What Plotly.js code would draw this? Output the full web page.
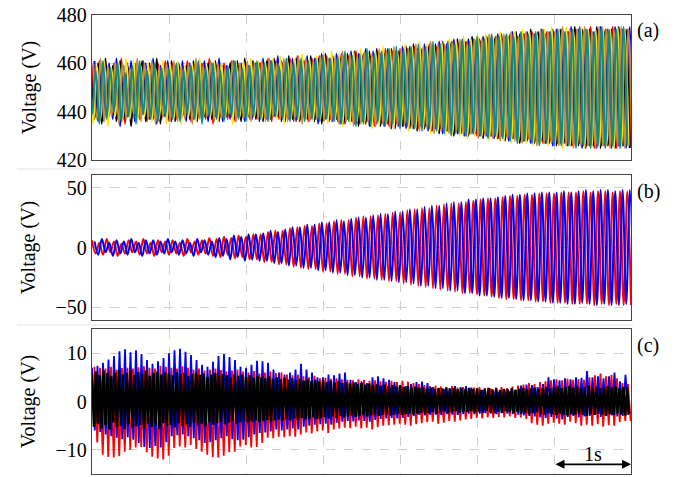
<!DOCTYPE html>
<html>
<head>
<meta charset="utf-8">
<script src="https://cdn.plot.ly/plotly-3.0.1.min.js"></script>
<style>html,body{margin:0;padding:0;background:#fff;}#chart{width:685px;height:477px;}</style>
</head>
<body>
<div id="chart"></div>
<script>
// ---------- DATA ----------
// Panel (a): per-cycle crest / trough values (V), one cycle ≈ 1/10.5 s
const aRedHi = [459,461,457,460,462,458,460,461,459,460,461, 460,458,461,459,460,462,459,460,461,459,460, 461,460,462,461,460,462,463,461,462,463, 463,462,464,463,465,464,463,465,466,465,466, 466,467,466,468,467,468,469,468,469,470, 469,470,471,470,472,471,472,473,472,473,473, 474,473,474,473,475,474,474,475,474,474];
const aRedLo = [438,436,440,437,435,439,437,436,438,437,436, 437,439,436,438,437,435,438,437,436,438,437, 437,438,436,437,438,436,437,436,437,436, 437,436,435,436,435,436,434,435,434,435,434, 434,433,434,432,433,432,431,432,431,430, 431,430,429,430,429,428,429,428,427,428,427, 427,426,427,426,425,426,426,425,426,426];
const aBlueHi = [461,458,460,462,459,461,457,460,462,459,461, 459,461,460,458,461,460,462,459,461,460,459, 460,462,461,463,460,462,461,463,462,464, 462,464,463,465,464,466,465,464,466,465,467, 467,466,468,467,469,468,470,469,470,469, 471,470,472,471,473,472,473,472,474,473,474, 473,475,474,474,473,475,474,475,474,475];
const aBlueLo = [436,439,437,434,438,436,439,437,435,438,436, 438,436,437,439,436,438,436,437,438,436,437, 436,437,438,436,437,436,438,437,435,437, 436,435,437,435,436,434,435,434,433,434,433, 433,434,432,433,431,432,431,430,431,430, 430,429,430,428,429,428,427,428,427,426,427, 426,427,425,426,425,426,425,426,425,426];
const aBlackHi = [458,460,462,459,461,460,458,461,460,462,459, 461,460,459,461,458,460,461,459,460,461,462, 461,460,461,462,461,463,462,461,463,462, 464,463,462,464,465,463,465,466,464,466,465, 467,468,466,467,468,469,468,470,469,471, 470,471,470,472,471,473,472,474,473,472,474, 474,473,475,474,474,475,473,474,475,474];
const aBlackLo = [437,435,438,436,437,434,438,436,437,435,437, 436,438,437,436,438,437,436,438,437,436,438, 437,436,437,438,436,437,436,437,436,435, 436,437,435,436,434,435,436,434,435,433,434, 433,432,433,432,431,432,430,431,430,431, 429,430,429,428,429,427,428,427,428,427,426, 427,426,426,425,426,425,426,425,426,425];
const aYellowHi = [462,459,461,458,460,462,461,459,460,458,461, 460,461,459,460,462,459,461,460,458,460,461, 462,461,460,462,463,461,462,464,462,463, 463,465,464,463,465,466,464,465,467,466,465, 468,467,469,468,467,469,470,469,471,470, 471,472,471,473,472,473,474,473,472,474,475, 474,475,473,475,474,474,475,474,475,474];
const aYellowLo = [435,437,434,438,436,437,435,438,436,437,435, 437,435,438,436,437,438,436,437,435,438,436, 438,437,436,437,435,437,436,437,436,437, 435,436,434,435,436,435,433,434,435,433,434, 432,433,432,431,432,430,431,430,429,430, 430,428,429,428,427,428,427,426,427,426,427, 425,426,426,425,426,425,426,425,425,426];
const aBrownHi = [460,462,459,461,460,458,462,460,461,459,460, 461,459,460,462,459,461,460,458,461,460,461, 460,461,462,460,462,461,463,462,461,463, 462,463,465,464,463,465,464,466,465,467,466, 466,468,467,469,468,467,469,470,468,470, 470,472,471,472,473,471,473,472,474,473,473, 475,474,474,475,473,475,474,474,475,474];
const aBrownLo = [437,436,438,435,437,439,436,437,435,438,436, 436,437,435,437,438,436,437,439,436,437,436, 437,436,438,437,436,437,435,436,437,436, 436,435,436,434,435,436,434,435,433,434,435, 433,432,433,431,432,431,432,430,431,429, 430,429,428,429,428,427,428,426,427,427,426, 426,425,426,426,425,426,425,426,425,425];
const aTealHi = [459,457,461,458,460,456,459,461,457,460,458, 458,460,457,459,461,458,460,457,459,461,458, 459,461,460,461,459,462,460,462,461,462, 463,462,463,465,463,464,466,464,465,466,467, 466,467,468,467,469,468,469,468,470,469, 471,470,472,471,472,471,473,472,473,474,473, 474,473,474,475,474,473,475,474,474,475];
const aTealLo = [439,435,437,440,436,438,435,439,437,436,438, 437,436,439,437,435,438,437,436,438,437,436, 438,437,436,438,437,436,437,436,437,436, 437,436,435,436,434,435,434,436,434,435,433, 434,433,432,433,432,431,430,431,430,431, 430,429,430,429,428,427,428,427,426,427,426, 426,426,425,426,425,426,425,426,425,426];

// Panel (b): per-cycle crest / trough values (V)
const bRedHi = [6,4,7,5,3,6,5,7,4,6,5, 6,4,7,5,6,8,7,9,8,10,9, 11,11,13,14,14,16,17,18,18,20, 20,22,23,23,25,26,26,27,28,29,29, 31,32,33,33,35,36,37,37,38,39, 40,41,41,42,43,43,44,44,45,45,45, 46,46,46,47,46,47,47,46,47,47];
const bRedLo = [-5,-6,-4,-7,-5,-4,-6,-5,-7,-4,-6, -5,-7,-4,-6,-5,-7,-8,-6,-9,-8,-10, -10,-12,-12,-14,-14,-16,-17,-18,-18,-20, -20,-22,-22,-24,-24,-26,-26,-27,-28,-28,-30, -31,-32,-33,-34,-35,-36,-37,-38,-38,-39, -40,-41,-42,-43,-43,-44,-44,-45,-45,-46,-46, -46,-47,-47,-47,-48,-47,-48,-47,-48,-48];
const bBlueHi = [5,7,4,6,5,7,4,6,6,5,7, 5,6,4,7,6,5,8,7,10,9,11, 11,12,14,13,15,17,17,19,19,21, 21,23,22,24,25,25,27,28,28,30,30, 32,32,34,35,35,37,38,38,40,40, 41,41,42,43,44,44,45,45,46,46,46, 47,46,47,48,47,48,48,47,48,48];
const bBlueLo = [-6,-4,-7,-5,-6,-4,-7,-5,-6,-5,-4, -6,-5,-7,-4,-6,-8,-7,-10,-8,-11,-10, -11,-11,-13,-13,-15,-15,-17,-17,-19,-19, -21,-21,-23,-23,-25,-25,-27,-27,-28,-29,-29, -30,-32,-32,-34,-34,-36,-36,-38,-38,-40, -40,-41,-42,-42,-43,-44,-44,-45,-45,-46,-46, -47,-47,-46,-47,-48,-47,-48,-48,-47,-48];

// Panel (c): per-spike values (V), one spike ≈ 1/14 s
const cBlueHi = [7.0,7.4,8.0,8.7,9.4,10.4,10.8,10.2,10.6,9.8,8.6,7.8,8.3,9.0, 10.0,10.6,10.9,10.3,9.6,8.6,7.6,7.2,8.2,9.4,9.8,9.2,8.6,7.2, 7.0,7.6,8.4,8.3,8.0,6.6,6.0,5.6,6.0,6.6,7.8,6.6,6.0,5.0, 5.0,5.6,5.4,5.8,6.0,4.5,4.0,4.2,3.8,5.0,5.2,4.8,4.5,4.0, 3.4,3.2,3.6,4.0,4.1,3.8,3.0,2.6,2.5,2.8,3.2,3.0,3.2,2.9, 2.6,2.4,2.2,2.1,2.0,2.3,2.1,2.4,3.3,3.5,3.4,3.0,3.6,5.0, 4.6,4.4,4.8,4.6,5.0,4.9,6.3,5.0,5.2,4.8,5.2,6.0,4.2,5.5];
const cBlueLo = [-6.0,-6.3,-6.8,-7.2,-7.5,-7.8,-7.4,-7.9,-8.6,-9.4,-9.6,-9.2,-9.5,-8.4, -7.2,-7.0,-6.8,-7.2,-7.6,-8.0,-8.6,-8.4,-8.0,-7.6,-7.2,-7.8,-8.0,-7.9, -7.4,-6.8,-6.5,-6.4,-6.2,-5.8,-6.0,-5.8,-5.6,-5.8,-5.2,-5.0,-4.8,-4.7, -4.6,-4.8,-4.4,-4.2,-4.0,-4.1,-3.9,-4.0,-4.2,-3.8,-3.6,-3.5,-3.4,-3.5, -3.4,-3.2,-3.0,-2.8,-2.9,-2.8,-2.7,-2.8,-2.6,-2.7,-2.8,-2.6,-2.5,-2.6, -2.5,-2.4,-2.5,-2.6,-2.4,-2.5,-2.6,-2.7,-2.9,-3.0,-3.1,-3.3,-3.4,-3.2, -3.5,-3.7,-3.2,-3.0,-3.3,-3.1,-3.0,-2.8,-3.2,-3.0,-2.9,-3.1,-3.0,-2.8];
const cRedHi = [7.2,7.0,6.8,7.2,6.6,6.9,7.0,6.8,7.1,7.3,7.0,6.8,7.4,7.2, 7.0,6.8,7.3,7.0,6.6,6.8,6.4,6.6,6.8,6.5,6.2,6.4,6.6,6.2, 6.0,6.3,5.8,6.0,6.2,5.9,6.0,5.6,5.4,5.6,5.2,5.0,5.3,4.8, 4.9,4.7,4.8,4.6,4.5,4.4,4.6,4.5,4.3,4.4,4.2,4.1,4.3,4.0, 4.3,4.1,3.8,3.6,3.4,3.2,3.3,3.1,3.0,3.2,2.9,3.0,2.8,2.9, 3.0,2.8,2.7,2.9,3.0,2.8,3.1,3.3,3.5,3.8,3.6,4.0,4.2,4.4, 4.6,4.4,4.7,4.5,4.6,4.5,5.0,5.4,5.8,5.2,5.5,4.8,3.8,3.6];
const cRedLo = [-8.5,-11.0,-11.5,-11.6,-11.3,-10.4,-10.0,-9.5,-9.4,-10.5,-11.4,-11.8,-12.0,-11.2, -9.6,-9.3,-9.5,-9.0,-9.8,-10.4,-11.0,-11.5,-11.6,-11.2,-10.5,-10.4,-9.3,-9.0, -9.5,-9.4,-8.6,-7.5,-7.6,-7.3,-7.4,-7.2,-7.3,-6.8,-6.4,-6.6,-6.2,-6.0, -6.5,-5.8,-5.6,-5.4,-5.5,-5.2,-5.6,-5.4,-5.8,-5.3,-5.0,-4.9,-4.8,-4.6, -4.8,-5.0,-4.7,-4.5,-4.3,-4.2,-4.6,-4.4,-4.0,-4.2,-3.9,-3.7,-3.6,-3.4, -3.5,-3.3,-3.4,-3.2,-3.3,-3.1,-3.4,-3.3,-3.6,-4.5,-4.8,-5.0,-4.6,-4.4, -4.6,-4.8,-4.2,-4.5,-5.0,-4.8,-5.0,-4.7,-5.2,-4.9,-5.0,-4.3,-4.0,-4.1];
// black trace: upper / lower swings, 20 per second
const cBlackHi = [5.8,6.2,5.4,6.4,5.9,5.2,6.0,6.5,5.6,5.9,6.3,5.5,6.1,5.7,6.4,5.3,5.9,6.2,5.6,6.0, 5.8,5.4,6.1,5.6,5.9,5.2,5.7,6.0,5.5,5.8,5.1,5.6,5.9,5.3,5.7,5.4,5.0,5.6,5.3,5.5, 5.1,5.4,4.9,5.3,5.0,4.8,5.2,4.7,5.0,4.6,4.9,4.5,4.8,4.4,4.7,4.3,4.6,4.2,4.5,4.1, 4.4,4.0,4.3,3.9,4.2,3.8,4.0,3.7,3.9,3.6,3.8,3.5,3.7,3.4,3.6,3.3,3.5,3.2,3.4,3.1, 3.3,3.0,3.2,2.9,3.1,2.8,3.0,2.7,2.9,2.6,2.8,2.7,2.9,2.6,2.8,2.5,2.7,2.6,2.8,2.5, 2.7,2.4,2.6,2.8,2.5,2.7,2.4,2.6,2.5,2.7,2.4,2.6,2.8,2.5,2.7,2.9,2.6,2.8,3.0,2.7, 2.9,3.1,2.8,3.0,3.2,2.9,3.1,2.8,3.0,3.3,2.9,3.1,2.8,3.0,3.2,2.9,3.1,2.8,3.0,2.9];
const cBlackLo = [-5.2,-4.6,-5.6,-4.9,-5.8,-4.4,-5.3,-5.0,-5.7,-4.7,-5.4,-5.1,-4.8,-5.5,-4.6,-5.2,-4.9,-5.6,-4.5,-5.0, -4.8,-5.3,-4.5,-5.0,-4.7,-5.2,-4.4,-4.9,-4.6,-5.1,-4.3,-4.8,-4.5,-4.2,-4.7,-4.4,-4.1,-4.6,-4.3,-4.0, -4.4,-4.1,-3.9,-4.3,-4.0,-3.8,-4.2,-3.9,-3.7,-4.0,-3.6,-3.9,-3.5,-3.8,-3.4,-3.7,-3.5,-3.3,-3.6,-3.4, -3.2,-3.5,-3.1,-3.4,-3.0,-3.3,-3.1,-2.9,-3.2,-3.0,-2.8,-3.1,-2.9,-2.7,-3.0,-2.8,-2.6,-2.9,-2.7,-2.5, -2.8,-2.6,-2.4,-2.7,-2.5,-2.3,-2.6,-2.4,-2.2,-2.5,-2.3,-2.1,-2.4,-2.2,-2.0,-2.3,-2.1,-2.2,-2.0,-2.3, -2.1,-2.3,-2.0,-2.2,-2.4,-2.1,-2.3,-2.0,-2.2,-2.4,-2.1,-2.5,-2.3,-2.6,-2.4,-2.2,-2.5,-2.7,-2.4,-2.6, -2.8,-2.5,-2.7,-2.9,-2.6,-2.8,-2.5,-2.7,-3.0,-2.6,-2.8,-2.5,-2.7,-2.9,-2.6,-2.8,-2.4,-2.7,-2.9,-2.6];

const yTicksA = [420, 440, 460, 480];
const yTicksB = [-50, 0, 50];
const yTicksC = [-10, 0, 10];
const panelLabels = ['(a)', '(b)', '(c)'];
const scaleLabel = '1s';

// sampling rates / phases (fractions of a cycle)
const fAB = 10.5, fC = 14, fBlack = 20;

// ---------- BUILD ----------
function wave(hi, lo, freq, phase) {
  const x = [], y = [];
  for (let k = 0; k < hi.length; k++) {
    x.push((k + phase) / freq); y.push(hi[k]);
    x.push((k + 0.5 + phase) / freq); y.push(lo[k]);
  }
  return { x, y };
}
function tr(w, color, width, xa, ya, shape) {
  return { type: 'scatter', mode: 'lines', x: w.x, y: w.y, xaxis: xa, yaxis: ya,
    line: { color: color, width: width, shape: shape || 'linear', smoothing: 1 },
    hoverinfo: 'skip', showlegend: false };
}
const traces = [
  tr(wave(aRedHi, aRedLo, fAB, 0), '#ff0000', 2, 'x', 'y', 'spline'),
  tr(wave(aBlueHi, aBlueLo, fAB, 0.33), '#0000ff', 2, 'x', 'y', 'spline'),
  tr(wave(aBlackHi, aBlackLo, fAB, -0.17), '#000000', 2, 'x', 'y', 'spline'),
  tr(wave(aYellowHi, aYellowLo, fAB, -0.33), '#ffe800', 2, 'x', 'y', 'spline'),
  tr(wave(aBrownHi, aBrownLo, fAB, 0.17), '#c88a48', 2, 'x', 'y', 'spline'),
  tr(wave(aTealHi, aTealLo, fAB, -0.5), '#128a86', 2, 'x', 'y', 'spline'),
  tr(wave(bRedHi, bRedLo, fAB, 0), '#ff0000', 2, 'x2', 'y2', 'spline'),
  tr(wave(bBlueHi, bBlueLo, fAB, 0.35), '#0000ff', 2, 'x2', 'y2', 'spline'),
  tr(wave(cRedHi, cRedLo, fC, 0.45), '#ff0000', 1.8, 'x3', 'y3'),
  tr(wave(cBlueHi, cBlueLo, fC, 0), '#0000ff', 1.8, 'x3', 'y3'),
  tr(wave(cBlackHi, cBlackLo, fBlack, 0), '#000000', 2.5, 'x3', 'y3')
];

const font = { family: 'Liberation Serif', size: 20, color: '#000' };
function xax(anchor) {
  return { anchor: anchor, range: [0, 7], dtick: 1, tick0: 0, showticklabels: false, ticks: '',
    showgrid: true, gridcolor: '#cfcfcf', griddash: 'dash', gridwidth: 1, zeroline: false,
    showline: true, mirror: true, linecolor: '#444', linewidth: 1.2 };
}
function yax(anchor, dom, range, ticks) {
  return { anchor: anchor, domain: dom, range: range, tickvals: ticks, ticks: '',
    showgrid: true, gridcolor: '#cfcfcf', griddash: 'dash', gridwidth: 1, zeroline: false,
    showline: true, mirror: true, linecolor: '#444', linewidth: 1.2,
    tickfont: font, title: { text: 'Voltage (V)', font: font, standoff: 14 } };
}
const layout = {
  width: 685, height: 477,
  margin: { l: 92, r: 54, t: 15, b: 3 },
  paper_bgcolor: '#fff', plot_bgcolor: '#fff',
  font: font,
  xaxis: xax('y'), xaxis2: xax('y2'), xaxis3: xax('y3'),
  yaxis: yax('x', [0.684, 1], [420, 480], yTicksA),
  yaxis2: yax('x2', [0.3355, 0.6514], [-60.5, 60.5], yTicksB),
  yaxis3: yax('x3', [0, 0.3159], [-15, 15], yTicksC),
  annotations: [
    { text: panelLabels[0], xref: 'paper', yref: 'paper', x: 1.008, y: 0.967, xanchor: 'left', yanchor: 'middle', showarrow: false, font: font },
    { text: panelLabels[1], xref: 'paper', yref: 'paper', x: 1.008, y: 0.6165, xanchor: 'left', yanchor: 'middle', showarrow: false, font: font },
    { text: panelLabels[2], xref: 'paper', yref: 'paper', x: 1.008, y: 0.2789, xanchor: 'left', yanchor: 'middle', showarrow: false, font: font },
    { text: '', xref: 'x3', yref: 'y3', x: 7, y: -13, ax: 6, ay: -13, axref: 'x3', ayref: 'y3',
      showarrow: true, arrowhead: 2, startarrowhead: 2, arrowside: 'end+start', arrowsize: 1, arrowwidth: 1.8, arrowcolor: '#000', standoff: 0, startstandoff: 0 },
    { text: scaleLabel, xref: 'x3', yref: 'y3', x: 6.5, y: -10.8, xanchor: 'center', yanchor: 'middle', showarrow: false, font: font }
  ],
  shapes: [
    { type: 'line', xref: 'paper', yref: 'paper', x0: -0.139, x1: 1.004, y0: 0.6645, y1: 0.6645, line: { color: '#e6e6e6', width: 1 } },
    { type: 'line', xref: 'paper', yref: 'paper', x0: -0.139, x1: 1.004, y0: 0.3246, y1: 0.3246, line: { color: '#e6e6e6', width: 1 } }
  ]
};
Plotly.newPlot('chart', traces, layout, { staticPlot: true, displayModeBar: false });
</script>
</body>
</html>
